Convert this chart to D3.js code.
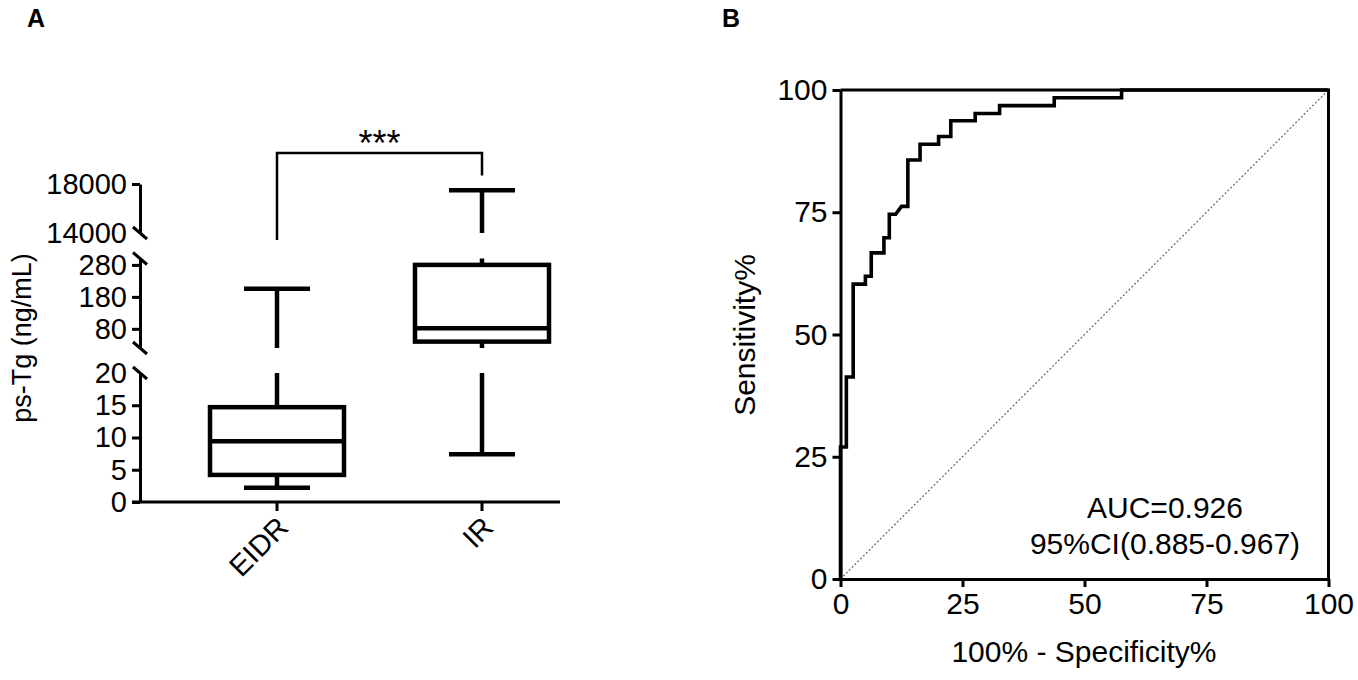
<!DOCTYPE html>
<html>
<head>
<meta charset="utf-8">
<script src="https://cdn.jsdelivr.net/npm/d3@7"></script>
<style>
  body { margin: 0; background: #fff; }
  text { font-family: "Liberation Sans", Arial, sans-serif; fill: #000; }
</style>
</head>
<body>
<svg id="chart" width="1358" height="680"></svg>
<script>
// panel A: box plot, broken y axis
const groups = ['EIDR', 'IR']
const mins = [2.2, 7.4]
const q1s = [4.2, 40]
const medians = [9.4, 82]
const q3s = [14.7, 280]
const maxs = [205, 17500]

const seg_domains = [[0, 20], [20, 300], [14000, 18000]]
const seg_ticks = [[0, 5, 10, 15, 20], [80, 180, 280], [14000, 18000]]
const sig_label = '***'

// panel B: ROC curve
const fpr = [0, 0, 1.2, 1.2, 2.6, 2.6, 5.1, 5.1, 6.3, 6.3, 8.9, 8.9, 10.0, 10.0, 11.3, 12.5, 13.8, 13.8,
    16.3, 16.3, 20.1, 20.1, 22.6, 22.6, 27.6, 27.6, 32.6, 32.6, 43.8, 43.8, 57.6, 57.6, 100]
const tpr = [0, 27.0, 27.0, 41.3, 41.3, 60.3, 60.3, 61.9, 61.9, 66.7, 66.7, 69.8, 69.8, 74.6, 74.6, 76.2, 76.2, 85.7,
    85.7, 88.9, 88.9, 90.5, 90.5, 93.7, 93.7, 95.2, 95.2, 96.8, 96.8, 98.4, 98.4, 100, 100]
const roc_ticks = [0, 25, 50, 75, 100]
const auc_text = ['AUC=0.926', '95%CI(0.885-0.967)']

const svg = d3.select('#chart')
const fmt = d3.format('d')

// ---------- panel A ----------
const ax = 140
const seg_ranges = [[502, 373], [348, 258.5], [233, 184]]
const segs = seg_domains.map((d, i) => d3.scaleLinear().domain(d).range(seg_ranges[i]))
const x = d3.scalePoint().domain(groups).range([277, 482])
const box_w = 134
const cap_w = 66

const gA = svg.append('g')

// y axis segments
segs.forEach((s, i) => {
    const axis = d3.axisLeft(s).tickValues(seg_ticks[i]).tickFormat(fmt)
        .tickSize(8).tickSizeOuter(0).tickPadding(5)
    const g = gA.append('g').attr('transform', `translate(${ax},0)`).call(axis)
    g.select('.domain').attr('stroke-width', 3)
    g.selectAll('.tick line').attr('stroke-width', 3)
        .filter(d => (i === 0 && d === 20) || (i === 2 && d === 14000)).remove()
    g.selectAll('.tick text').attr('font-size', 29).attr('font-family', '"Liberation Sans", Arial, sans-serif')
})

// break marks at each inner segment end
const breaks = [segs[0](20), segs[1](20), segs[1](300), segs[2](14000)]
gA.selectAll('line.brk')
    .data(breaks)
    .enter()
    .append('line')
    .attr('x1', ax - 7).attr('x2', ax + 7)
    .attr('y1', d => d - 6).attr('y2', d => d + 6)
    .attr('stroke', '#000').attr('stroke-width', 3)

// x axis
gA.append('line')
    .attr('x1', ax - 8).attr('x2', 560)
    .attr('y1', segs[0](0)).attr('y2', segs[0](0))
    .attr('stroke', '#000').attr('stroke-width', 3)
gA.selectAll('line.xt')
    .data(groups)
    .enter()
    .append('line')
    .attr('x1', d => x(d)).attr('x2', d => x(d))
    .attr('y1', segs[0](0)).attr('y2', segs[0](0) + 9)
    .attr('stroke', '#000').attr('stroke-width', 3)
gA.selectAll('text.xl')
    .data(groups)
    .enter()
    .append('text')
    .attr('transform', d => `translate(${x(d) + 6},${segs[0](0) + 20}) rotate(-45)`)
    .attr('text-anchor', 'end')
    .attr('dy', '0.35em')
    .attr('font-size', 29)
    .text(d => d)

// draw a vertical value range clipped into every segment
function clipped(lo, hi) {
    const out = []
    segs.forEach(s => {
        const [d0, d1] = s.domain()
        const a = Math.max(lo, d0), b = Math.min(hi, d1)
        if (a < b) out.push([s(a), s(b)])
    })
    return out
}
function where(v) {
    const s = segs.find(s => v >= s.domain()[0] && v <= s.domain()[1])
    return s(v)
}

groups.forEach((grp, i) => {
    const cx = x(grp)
    const g = gA.append('g').attr('stroke', '#000').attr('fill', 'none').attr('stroke-width', 4.5)
    // whiskers
    clipped(q3s[i], maxs[i]).concat(clipped(mins[i], q1s[i])).forEach(([y0, y1]) => {
        g.append('line').attr('x1', cx).attr('x2', cx).attr('y1', y0).attr('y2', y1)
    })
    ;[mins[i], maxs[i]].forEach(v => {
        g.append('line').attr('x1', cx - cap_w / 2).attr('x2', cx + cap_w / 2)
            .attr('y1', where(v)).attr('y2', where(v))
    })
    // box
    clipped(q1s[i], q3s[i]).forEach(([y0, y1]) => {
        g.append('rect').attr('x', cx - box_w / 2).attr('width', box_w)
            .attr('y', y1).attr('height', y0 - y1).attr('fill', '#fff')
    })
    g.append('line').attr('x1', cx - box_w / 2).attr('x2', cx + box_w / 2)
        .attr('y1', where(medians[i])).attr('y2', where(medians[i]))
})

// significance bracket (top segment scale, extrapolated)
const top_s = segs[2]
const br_y = top_s(20530)
gA.append('path')
    .attr('d', `M${x('EIDR')},${top_s(13430)}V${br_y}H${x('IR')}V${top_s(18700)}`)
    .attr('fill', 'none').attr('stroke', '#000').attr('stroke-width', 2.5)
gA.append('text')
    .attr('x', (x('EIDR') + x('IR')) / 2).attr('y', br_y + 3)
    .attr('text-anchor', 'middle').attr('font-size', 36)
    .text(sig_label)

gA.append('text')
    .attr('transform', 'translate(31,338) rotate(-90)')
    .attr('text-anchor', 'middle').attr('font-size', 27)
    .text('ps-Tg (ng/mL)')

svg.append('text').attr('x', 27).attr('y', 27).attr('font-size', 25).attr('font-weight', 'bold').text('A')
svg.append('text').attr('x', 722).attr('y', 27).attr('font-size', 25).attr('font-weight', 'bold').text('B')

// ---------- panel B ----------
const bx = d3.scaleLinear().domain([0, 100]).range([840.5, 1328.5])
const by = d3.scaleLinear().domain([0, 100]).range([579, 90])
const gB = svg.append('g')

const xAxis = d3.axisBottom(bx).tickValues(roc_ticks).tickSize(8).tickSizeOuter(0).tickPadding(6)
const yAxis = d3.axisLeft(by).tickValues(roc_ticks).tickSize(8).tickSizeOuter(0).tickPadding(5)
const gx = gB.append('g').attr('transform', `translate(0,${by(0)})`).call(xAxis)
const gy = gB.append('g').attr('transform', `translate(${bx(0)},0)`).call(yAxis)
;[gx, gy].forEach(g => {
    g.select('.domain').attr('stroke-width', 3)
    g.selectAll('.tick line').attr('stroke-width', 3)
    g.selectAll('.tick text').attr('font-size', 30).attr('font-family', '"Liberation Sans", Arial, sans-serif')
})

// frame top and right
gB.append('path')
    .attr('d', `M${bx(0)},${by(100)}H${bx(100)}V${by(0)}`)
    .attr('fill', 'none').attr('stroke', '#000').attr('stroke-width', 3)

// reference diagonal
gB.append('line')
    .attr('x1', bx(0)).attr('y1', by(0)).attr('x2', bx(100)).attr('y2', by(100))
    .attr('stroke', '#666').attr('stroke-width', 1.2).attr('stroke-dasharray', '2,2')

const roc = d3.line().x(d => bx(d[0])).y(d => by(d[1]))
gB.append('path')
    .datum(fpr.map((f, i) => [f, tpr[i]]))
    .attr('d', roc)
    .attr('fill', 'none').attr('stroke', '#000').attr('stroke-width', 3.6)
    .attr('stroke-linejoin', 'miter')

gB.selectAll('text.auc')
    .data(auc_text)
    .enter()
    .append('text')
    .attr('x', 1165)
    .attr('y', (d, i) => 518 + i * 36)
    .attr('text-anchor', 'middle')
    .attr('font-size', 30)
    .text(d => d)

gB.append('text')
    .attr('transform', 'translate(755,335) rotate(-90)')
    .attr('text-anchor', 'middle').attr('font-size', 30)
    .text('Sensitivity%')
gB.append('text')
    .attr('x', 1084).attr('y', 662)
    .attr('text-anchor', 'middle').attr('font-size', 30)
    .text('100% - Specificity%')
</script>
</body>
</html>
